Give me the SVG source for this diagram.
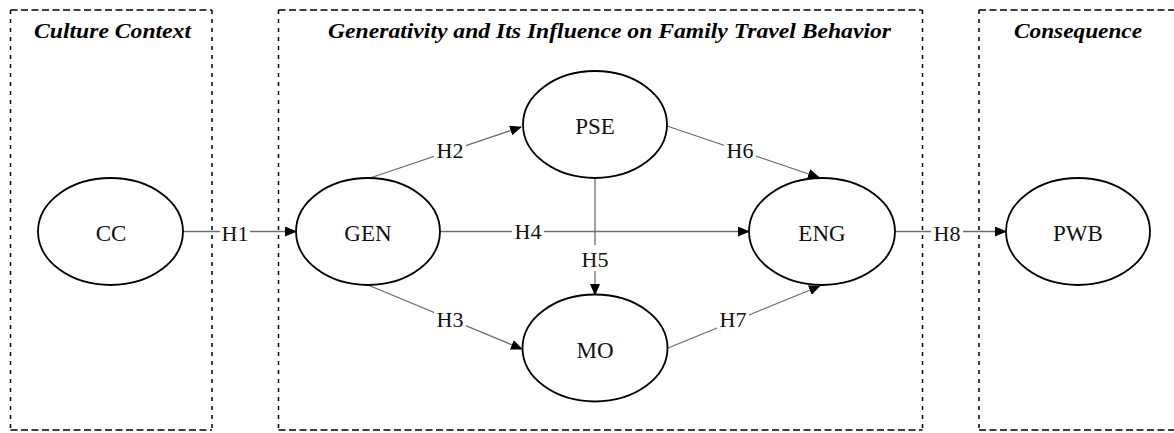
<svg xmlns="http://www.w3.org/2000/svg" width="1174" height="433" viewBox="0 0 1174 433">
<style>
.box{fill:none;stroke:#000;stroke-width:1.5}
.h{stroke-dasharray:7 3.5}
.v{stroke-dasharray:4 5}
.title{font-family:"Liberation Serif","Times New Roman",serif;font-weight:bold;font-style:italic;font-size:20px;fill:#000}
.node ellipse{fill:#fff;stroke:#000;stroke-width:1.8}
.node text{font-family:"Liberation Serif","Times New Roman",serif;font-size:23px;fill:#111;text-anchor:middle}
.edge{stroke:#6e6e6e;stroke-width:1.3;fill:none}
.lbl{font-family:"Liberation Serif","Times New Roman",serif;font-size:22px;fill:#111;text-anchor:middle}
.bg{fill:#fff}
</style>
<defs>
<marker id="arr" markerUnits="userSpaceOnUse" markerWidth="12" markerHeight="10" viewBox="0 0 12 10" refX="11" refY="5" orient="auto">
<path d="M0,0 L12,5 L0,10 Z" fill="#000"/>
</marker>
</defs>
<rect width="1174" height="433" fill="#fff"/>
<g id="frames">
<line class="box h" x1="10.5" y1="10" x2="212" y2="10"/>
<line class="box h" x1="10.5" y1="430" x2="212" y2="430"/>
<line class="box v" x1="10.5" y1="10" x2="10.5" y2="430"/>
<line class="box v" x1="212" y1="10" x2="212" y2="430"/>
<line class="box h" x1="278.5" y1="10" x2="922.5" y2="10"/>
<line class="box h" x1="278.5" y1="430" x2="922.5" y2="430"/>
<line class="box v" x1="278.5" y1="10" x2="278.5" y2="430"/>
<line class="box v" x1="922.5" y1="10" x2="922.5" y2="430"/>
<line class="box h" x1="979" y1="10" x2="1180" y2="10"/>
<line class="box h" x1="979" y1="430" x2="1180" y2="430"/>
<line class="box v" x1="979" y1="10" x2="979" y2="430"/>
<text class="title" x="34" y="38" textLength="157" lengthAdjust="spacingAndGlyphs">Culture Context</text>
<text class="title" x="328" y="38" textLength="563" lengthAdjust="spacingAndGlyphs">Generativity and Its Influence on Family Travel Behavior</text>
<text class="title" x="1014" y="38" textLength="128" lengthAdjust="spacingAndGlyphs">Consequence</text>
</g>
<g id="connectors">
<line class="edge" x1="183" y1="231.5" x2="296" y2="231.5" marker-end="url(#arr)"/>
<line class="edge" x1="440" y1="231.5" x2="749" y2="231.5" marker-end="url(#arr)"/>
<line class="edge" x1="895" y1="231.5" x2="1006" y2="231.5" marker-end="url(#arr)"/>
<line class="edge" x1="595" y1="178" x2="595" y2="295" marker-end="url(#arr)"/>
<line class="edge" x1="370" y1="178" x2="521" y2="127" marker-end="url(#arr)"/>
<line class="edge" x1="667" y1="126" x2="819" y2="177.5" marker-end="url(#arr)"/>
<line class="edge" x1="368" y1="285" x2="522" y2="349" marker-end="url(#arr)"/>
<line class="edge" x1="668" y1="348" x2="820" y2="286" marker-end="url(#arr)"/>
<rect class="bg" x="220" y="222" width="30" height="20"/>
<text class="lbl" x="235" y="241">H1</text>
<rect class="bg" x="512" y="221" width="32" height="20"/>
<text class="lbl" x="528" y="239">H4</text>
<rect class="bg" x="931" y="222" width="32" height="20"/>
<text class="lbl" x="947" y="241">H8</text>
<rect class="bg" x="580" y="245" width="30" height="26"/>
<text class="lbl" x="595" y="267">H5</text>
<rect class="bg" x="434" y="141" width="32" height="20"/>
<text class="lbl" x="450" y="158">H2</text>
<rect class="bg" x="724" y="141" width="32" height="20"/>
<text class="lbl" x="740" y="158">H6</text>
<rect class="bg" x="434" y="310" width="32" height="20"/>
<text class="lbl" x="450" y="327">H3</text>
<rect class="bg" x="717" y="310" width="32" height="20"/>
<text class="lbl" x="733" y="327">H7</text>
</g>
<g id="node-CC" class="node"><ellipse cx="110.5" cy="231.5" rx="72.5" ry="53.5"/><text x="111" y="241">CC</text></g>
<g id="node-GEN" class="node"><ellipse cx="368" cy="231.5" rx="72" ry="53.5"/><text x="368" y="241">GEN</text></g>
<g id="node-PSE" class="node"><ellipse cx="595" cy="124.5" rx="72" ry="53.5"/><text x="595" y="134">PSE</text></g>
<g id="node-ENG" class="node"><ellipse cx="822" cy="231.5" rx="73" ry="53.5"/><text x="822" y="241">ENG</text></g>
<g id="node-MO" class="node"><ellipse cx="595" cy="348" rx="72.5" ry="53.5"/><text x="595" y="358">MO</text></g>
<g id="node-PWB" class="node"><ellipse cx="1078" cy="231.5" rx="72" ry="53.5"/><text x="1078" y="241">PWB</text></g>
</svg>
